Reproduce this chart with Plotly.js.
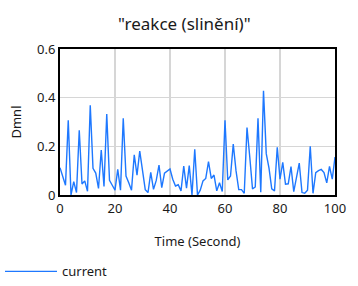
<!DOCTYPE html>
<html>
<head>
<meta charset="utf-8">
<script src="https://cdn.plot.ly/plotly-3.0.1.min.js"></script>
<style>html,body{margin:0;padding:0;background:#fff;}#chart{width:358px;height:286px;}</style>
</head>
<body>
<div id="chart"></div>
<script>
const timeSec = [];
for (let i = 0; i <= 100; i++) timeSec.push(i);
const currentValues = [
  0.112, 0.08, 0.04, 0.307, 0.0, 0.055, 0.01, 0.266, 0.045, 0.058,
  0.015, 0.369, 0.11, 0.09, 0.027, 0.185, 0.035, 0.333, 0.06, 0.04,
  0.02, 0.105, 0.02, 0.315, 0.078, 0.05, 0.02, 0.165, 0.082, 0.18,
  0.095, 0.022, 0.01, 0.093, 0.023, 0.06, 0.123, 0.03, 0.09, 0.1,
  0.107, 0.065, 0.037, 0.042, 0.017, 0.119, 0.028, 0.121, 0.0, 0.188,
  0.0, 0.02, 0.058, 0.068, 0.137, 0.068, 0.082, 0.017, 0.05, 0.014,
  0.307, 0.062, 0.078, 0.209, 0.1, 0.022, 0.022, 0.007, 0.277, 0.157,
  0.025, 0.033, 0.315, 0.011, 0.428, 0.17, 0.11, 0.025, 0.017, 0.196,
  0.065, 0.134, 0.044, 0.046, 0.117, 0.014, 0.07, 0.131, 0.01, 0.007,
  0.02, 0.2, 0.007, 0.092, 0.1, 0.105, 0.092, 0.05, 0.118, 0.065,
  0.156
];
const yTickVals = [0, 0.2, 0.4, 0.6];
const yTickText = ["0", "0.2", "0.4", "0.6"];
const xTickVals = [0, 20, 40, 60, 80, 100];
const xTickText = ["0", "20", "40", "60", "80", "100"];

const fontFam = "Noto Sans, Open Sans, sans-serif";
const trace = {
  x: timeSec, y: currentValues, type: 'scatter', mode: 'lines', name: 'current',
  line: {color: '#1e78ff', width: 1.4}
};
const layout = {
  width: 358, height: 286,
  margin: {l: 59.5, r: 22.5, t: 49, b: 91, autoexpand: false},
  paper_bgcolor: '#fff', plot_bgcolor: '#fff',
  font: {family: fontFam, color: '#1a1a1a', size: 13},
  title: {text: '"reakce (slinění)"', font: {size: 17, color: '#1a1a1a'}, x: 0.515, xanchor: 'center', y: 0.915, yanchor: 'middle'},
  xaxis: {
    range: [0, 100], tickvals: xTickVals, ticktext: xTickText, automargin: false,
    showline: true, linecolor: '#000', linewidth: 2, mirror: true,
    showgrid: true, gridcolor: '#d6d6d6', gridwidth: 1.5, zeroline: false,
    ticks: '', tickfont: {size: 13},
    title: {text: 'Time (Second)', font: {size: 13}, standoff: 21}
  },
  yaxis: {
    range: [0, 0.6], tickvals: yTickVals, ticktext: yTickText, automargin: false,
    showline: true, linecolor: '#000', linewidth: 2, mirror: true,
    showgrid: true, gridcolor: '#d6d6d6', gridwidth: 1.5, zeroline: false,
    ticks: '', tickfont: {size: 13},
    title: {text: 'Dmnl', font: {size: 13}, standoff: 12}
  },
  showlegend: true,
  legend: {orientation: 'h', xref: 'container', yref: 'container', x: 0.0, xanchor: 'left', y: 0.051, yanchor: 'middle', itemwidth: 52, font: {size: 13}, bgcolor: 'rgba(0,0,0,0)'}
};
Plotly.newPlot('chart', [trace], layout, {displayModeBar: false, staticPlot: true});
</script>
</body>
</html>
